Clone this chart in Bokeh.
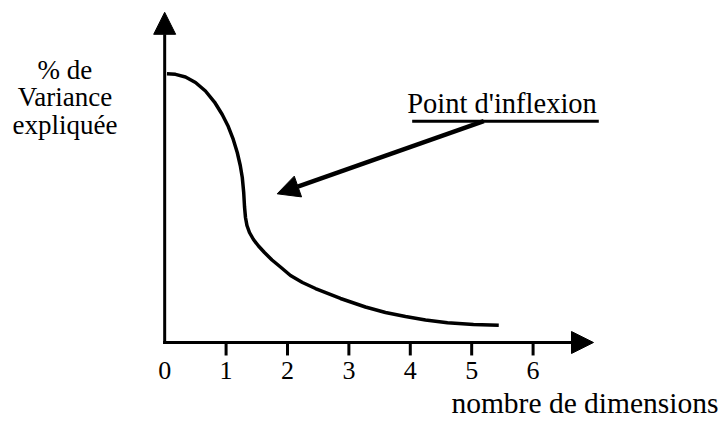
from bokeh.plotting import figure
from bokeh.models import Range1d, Arrow, NormalHead, Label
from bokeh.core.properties import value
from bokeh.embed import file_html
from bokeh.resources import INLINE

# ---- data ----
dimensions = [0.037, 0.176, 0.339, 0.502, 0.664, 0.811, 0.937, 1.036, 1.117, 1.182,
              1.231, 1.264, 1.287, 1.300, 1.316, 1.340, 1.381, 1.446, 1.528, 1.625,
              1.748, 1.886, 2.049, 2.244, 2.456, 2.863, 3.270, 3.596, 3.922, 4.248,
              4.606, 5.029, 5.441]
variance = [99.52, 99.33, 98.33, 96.30, 93.15, 89.07, 84.44, 80.00, 75.19, 70.37,
            65.56, 61.11, 55.56, 50.37, 46.30, 43.33, 40.74, 38.15, 35.74, 33.33,
            30.56, 27.96, 24.81, 22.22, 20.00, 16.30, 13.15, 11.11, 9.63, 8.33,
            7.30, 6.67, 6.41]

tick_values = [0, 1, 2, 3, 4, 5, 6]
tick_labels = ["0", "1", "2", "3", "4", "5", "6"]
tick_mark_values = [1, 2, 3, 4, 5, 6]
tick_label_y = -10.4

x_axis_end = 6.984            # arrow tip of the x axis
y_axis_end = 122.3            # arrow tip of the y axis

pointer_start = [5.197, 81.96]    # annotation arrow tail (on the underline)
pointer_end = [1.832, 55.07]      # annotation arrow tip
underline_x = [4.031, 7.070]
underline_y = [81.96, 81.96]

annotation_text = "Point d'inflexion"
annotation_pos = [3.95, 88.6]

y_label_lines = ["% de", "Variance", "expliquée"]
y_label_y = [101.0, 91.1, 80.7]
y_label_x = -1.624

x_label_text = "nombre de dimensions"
x_label_pos = [9.02, -22.4]

FONT = "Liberation Serif"

W, H = 722, 421
p = figure(width=W, height=H,
           x_range=Range1d(-2.674, 9.085), y_range=Range1d(-29.26, 126.67),
           x_axis_location=None, y_axis_location=None,
           toolbar_location=None, output_backend="svg",
           min_border=0, min_border_left=0, min_border_right=0,
           min_border_top=0, min_border_bottom=0,
           outline_line_color=None)
p.grid.visible = False
p.background_fill_color = "white"
p.border_fill_color = "white"

# axes as arrows
p.add_layout(Arrow(end=NormalHead(size=22, fill_color="black", line_color="black", line_width=1),
                   x_start=0, y_start=-0.6, x_end=0, y_end=y_axis_end,
                   line_width=3, line_color="black"))
p.add_layout(Arrow(end=NormalHead(size=22, fill_color="black", line_color="black", line_width=1),
                   x_start=-0.025, y_start=0, x_end=x_axis_end, y_end=0,
                   line_width=3, line_color="black"))

# tick marks and tick labels
p.segment(x0=tick_mark_values, y0=[0] * len(tick_mark_values),
          x1=tick_mark_values, y1=[-4.8] * len(tick_mark_values),
          line_width=3, line_color="black")
p.text(x=tick_values, y=[tick_label_y] * len(tick_values), text=tick_labels,
       text_font=value(FONT), text_font_size="26px", text_color="black",
       text_align="center", text_baseline="alphabetic")

# scree curve
p.line(dimensions, variance, line_width=3.5, line_color="black",
       line_join="round", line_cap="butt")

# annotation
p.line(underline_x, underline_y, line_width=3, line_color="black")
p.add_layout(Arrow(end=NormalHead(size=22, fill_color="black", line_color="black", line_width=1),
                   x_start=pointer_start[0], y_start=pointer_start[1],
                   x_end=pointer_end[0], y_end=pointer_end[1],
                   line_width=4.5, line_color="black"))
p.add_layout(Label(x=annotation_pos[0], y=annotation_pos[1], text=annotation_text,
                   text_font=FONT, text_font_size="28.5px", text_color="black",
                   text_align="left", text_baseline="alphabetic"))

# y axis title (three lines)
for line_text, yy in zip(y_label_lines, y_label_y):
    p.add_layout(Label(x=y_label_x, y=yy, text=line_text,
                       text_font=FONT, text_font_size="27px", text_color="black",
                       text_align="center", text_baseline="alphabetic"))

# x axis title
p.add_layout(Label(x=x_label_pos[0], y=x_label_pos[1], text=x_label_text,
                   text_font=FONT, text_font_size="29.5px", text_color="black",
                   text_align="right", text_baseline="alphabetic"))

open("out.html", "w").write(file_html(p, INLINE))
